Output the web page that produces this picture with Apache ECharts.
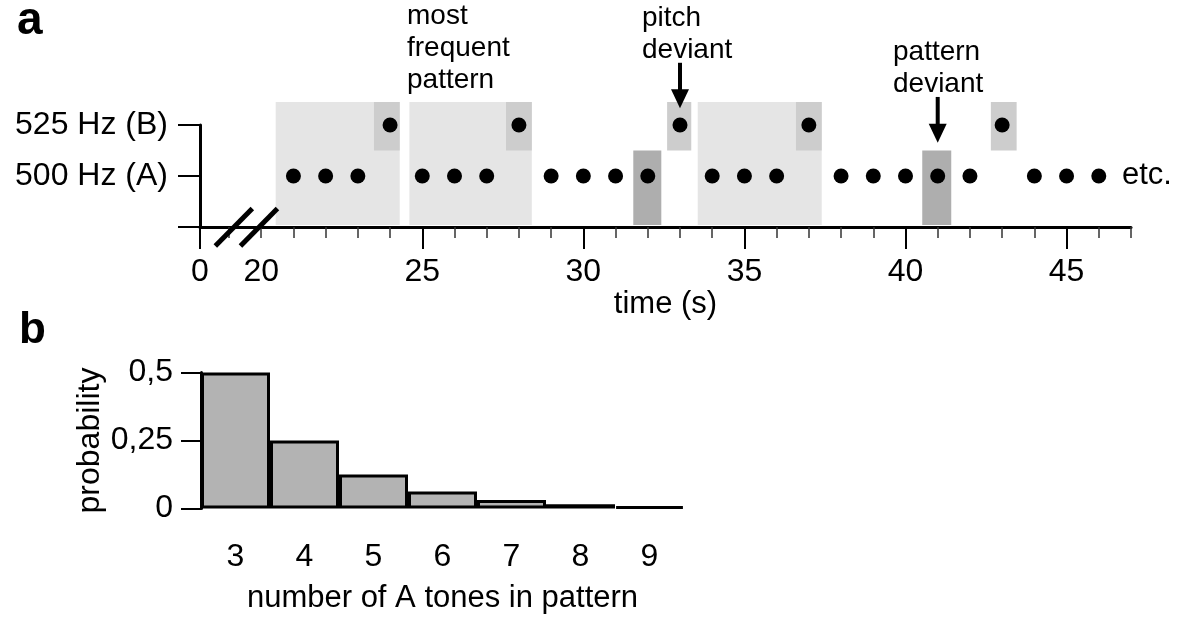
<!DOCTYPE html>
<html>
<head>
<meta charset="utf-8">
<script src="https://cdn.jsdelivr.net/npm/echarts@6.0.0/dist/echarts.min.js"></script>
<style>
html,body{margin:0;padding:0;background:#fff;}
#chart{width:1200px;height:626px;}
</style>
</head>
<body>
<div id="chart"></div>
<script>
// ---------- data (panel a) ----------
const tonesA = [21, 22, 23, 25, 26, 27, 29, 30, 31, 32, 34, 35, 36, 38, 39, 40, 41, 42, 44, 45, 46];
const tonesB = [24, 28, 33, 37, 43];
const patternSpans = [[20.45, 24.3], [24.6, 28.4], [33.55, 37.4]];
const toneBSpans = [[23.5, 24.3], [27.6, 28.4], [32.6, 33.35], [36.6, 37.4], [42.65, 43.45]];
const deviantASpans = [[31.55, 32.42], [40.52, 41.42]];
const arrowTimes = [33, 41];
const arrowFrom = [3.22, 2.55];
const arrowTo = [2.33, 1.65];
const breakMarks = [19.15, 19.93];
const axisOrigin = 18.1;
const axisEnd = 47;
const timeLabelValues = [axisOrigin, 20, 25, 30, 35, 40, 45];
const timeLabels = ['0', '20', '25', '30', '35', '40', '45'];
const majorTickValues = [axisOrigin, 25, 30, 35, 40, 45];
const minorTickValues = [19, 20, 21, 22, 23, 24, 26, 27, 28, 29, 31, 32, 33, 34, 36, 37, 38, 39, 41, 42, 43, 44, 46, 47];
const freqLabels = ['', '500 Hz (A)', '525 Hz (B)'];

// ---------- data (panel b) ----------
const countCategories = ['3', '4', '5', '6', '7', '8', '9'];
const countProbabilities = [0.5, 0.25, 0.125, 0.0625, 0.031, 0.016, 0.008];
const probTickValues = [0, 0.25, 0.5];
const probTickLabels = ['0', '0,25', '0,5'];

// ---------- styling ----------
const FONT = 'Liberation Sans, Arial, sans-serif';
const BAND_PATTERN = [0.04, 2.45];
const BAND_B = [1.5, 2.45];
const BAND_A = [0.04, 1.5];

function rectRenderer(band, color) {
  return function (params, api) {
    const p0 = api.coord([api.value(0), band[1]]);
    const p1 = api.coord([api.value(1), band[0]]);
    return {
      type: 'rect',
      shape: { x: p0[0], y: p0[1], width: p1[0] - p0[0], height: p1[1] - p0[1] },
      style: { fill: color }
    };
  };
}

const chart = echarts.init(document.getElementById('chart'), null, { renderer: 'canvas' });

const option = {
  backgroundColor: '#ffffff',
  animation: false,
  textStyle: { fontFamily: FONT, color: '#000' },
  grid: [
    { left: 200, right: 69, top: 125, bottom: 399, outerBoundsMode: 'none' },
    { left: 201, right: 516, top: 372.5, bottom: 117.5, outerBoundsMode: 'none' }
  ],
  xAxis: [
    {
      gridIndex: 0, type: 'value', position: 'bottom', min: axisOrigin, max: axisEnd,
      name: 'time (s)', nameLocation: 'middle', nameGap: 60,
      nameTextStyle: { fontSize: 31, color: '#000', fontFamily: FONT },
      axisLine: { show: true, lineStyle: { color: '#000', width: 3 } },
      axisTick: { show: true, length: 22, customValues: majorTickValues, lineStyle: { color: '#000', width: 2 } },
      axisLabel: {
        show: true, customValues: timeLabelValues, margin: 29, fontSize: 32, color: '#000', fontFamily: FONT,
        formatter: function (v) {
          let best = 0;
          for (let i = 0; i < timeLabelValues.length; i++) {
            if (Math.abs(timeLabelValues[i] - v) < Math.abs(timeLabelValues[best] - v)) best = i;
          }
          return timeLabels[best];
        }
      },
      splitLine: { show: false }
    },
    {
      gridIndex: 0, type: 'value', position: 'bottom', min: axisOrigin, max: axisEnd,
      axisLine: { show: false },
      axisTick: { show: true, length: 11, customValues: minorTickValues, lineStyle: { color: '#333', width: 1.5 } },
      axisLabel: { show: false },
      splitLine: { show: false }
    },
    {
      gridIndex: 1, type: 'category', data: countCategories,
      name: 'number of A tones in pattern', nameLocation: 'middle', nameGap: 74,
      nameTextStyle: { fontSize: 31, color: '#000', fontFamily: FONT },
      axisLine: { show: false },
      axisTick: { show: false },
      axisLabel: { margin: 33, fontSize: 32, color: '#000', fontFamily: FONT },
      splitLine: { show: false }
    }
  ],
  yAxis: [
    {
      gridIndex: 0, type: 'value', min: 0, max: 2, interval: 1,
      axisLine: { show: true, lineStyle: { color: '#000', width: 3 } },
      axisTick: { show: true, length: 22, lineStyle: { color: '#000', width: 2 } },
      axisLabel: { margin: 32, fontSize: 32, color: '#000', fontFamily: FONT,
        formatter: function (v) { return freqLabels[Math.round(v)] || ''; } },
      splitLine: { show: false }
    },
    {
      gridIndex: 1, type: 'value', min: 0, max: 0.5, interval: 0.25,
      name: 'probability', nameLocation: 'middle', nameGap: 95, nameRotate: 90,
      nameTextStyle: { fontSize: 32, color: '#000', fontFamily: FONT },
      axisLine: { show: true, lineStyle: { color: '#000', width: 3 } },
      axisTick: { show: true, length: 20, lineStyle: { color: '#000', width: 2 } },
      axisLabel: { margin: 28, fontSize: 32, color: '#000', fontFamily: FONT,
        formatter: function (v) {
          const i = probTickValues.findIndex(function (t) { return Math.abs(t - v) < 1e-9; });
          return i >= 0 ? probTickLabels[i] : '';
        } },
      splitLine: { show: false }
    }
  ],
  series: [
    { type: 'custom', xAxisIndex: 0, yAxisIndex: 0, clip: false, silent: true, z: 1,
      data: patternSpans, encode: { x: [0, 1] }, renderItem: rectRenderer(BAND_PATTERN, '#e5e5e5') },
    { type: 'custom', xAxisIndex: 0, yAxisIndex: 0, clip: false, silent: true, z: 2,
      data: toneBSpans, encode: { x: [0, 1] }, renderItem: rectRenderer(BAND_B, '#cdcdcd') },
    { type: 'custom', xAxisIndex: 0, yAxisIndex: 0, clip: false, silent: true, z: 2,
      data: deviantASpans, encode: { x: [0, 1] }, renderItem: rectRenderer(BAND_A, '#aeaeae') },
    { type: 'scatter', xAxisIndex: 0, yAxisIndex: 0, clip: false, z: 5, symbol: 'circle', symbolSize: 15,
      itemStyle: { color: '#000', opacity: 1 }, data: tonesA.map(function (t) { return [t, 1]; }) },
    { type: 'scatter', xAxisIndex: 0, yAxisIndex: 0, clip: false, z: 5, symbol: 'circle', symbolSize: 15,
      itemStyle: { color: '#000', opacity: 1 }, data: tonesB.map(function (t) { return [t, 2]; }) },
    { type: 'custom', xAxisIndex: 0, yAxisIndex: 0, clip: false, silent: true, z: 6,
      data: arrowTimes.map(function (t, i) { return [t, arrowFrom[i], arrowTo[i]]; }),
      encode: { x: 0, y: [1, 2] },
      renderItem: function (params, api) {
        const top = api.coord([api.value(0), api.value(1)]);
        const tip = api.coord([api.value(0), api.value(2)]);
        const headH = 19, headW = 9;
        return {
          type: 'group',
          children: [
            { type: 'line', shape: { x1: top[0], y1: top[1], x2: tip[0], y2: tip[1] - headH + 2 },
              style: { stroke: '#000', lineWidth: 4 } },
            { type: 'polygon', shape: { points: [[tip[0] - headW, tip[1] - headH], [tip[0] + headW, tip[1] - headH], [tip[0], tip[1]]] },
              style: { fill: '#000' } }
          ]
        };
      } },
    { type: 'custom', xAxisIndex: 0, yAxisIndex: 0, clip: false, silent: true, z: 7,
      data: breakMarks.map(function (t) { return [t, 0]; }),
      encode: { x: 0, y: 1 },
      renderItem: function (params, api) {
        const p = api.coord([api.value(0), api.value(1)]);
        return { type: 'line', shape: { x1: p[0] - 18.5, y1: p[1] + 19, x2: p[0] + 18.5, y2: p[1] - 18.5 },
          style: { stroke: '#000', lineWidth: 5 } };
      } },
    { type: 'bar', xAxisIndex: 2, yAxisIndex: 1, data: countProbabilities, barCategoryGap: '0%',
      itemStyle: { color: '#b3b3b3', borderColor: '#000', borderWidth: 3 } }
  ],
  graphic: [
    { type: 'text', x: 17, y: 21, style: { text: 'a', font: 'bold 46px ' + FONT, fill: '#000', textVerticalAlign: 'middle' } },
    { type: 'text', x: 19, y: 331, style: { text: 'b', font: 'bold 44px ' + FONT, fill: '#000', textVerticalAlign: 'middle' } },
    { type: 'text', x: 407, y: 0, style: { text: 'most\nfrequent\npattern', font: '28px ' + FONT, lineHeight: 32, fill: '#000', textVerticalAlign: 'top' } },
    { type: 'text', x: 642, y: 2, style: { text: 'pitch\ndeviant', font: '28px ' + FONT, lineHeight: 32, fill: '#000', textVerticalAlign: 'top' } },
    { type: 'text', x: 893, y: 36, style: { text: 'pattern\ndeviant', font: '28px ' + FONT, lineHeight: 32, fill: '#000', textVerticalAlign: 'top' } },
    { type: 'text', x: 1122, y: 175, style: { text: 'etc.', font: '31px ' + FONT, fill: '#000', textVerticalAlign: 'middle' } }
  ]
};

chart.setOption(option);
</script>
</body>
</html>
